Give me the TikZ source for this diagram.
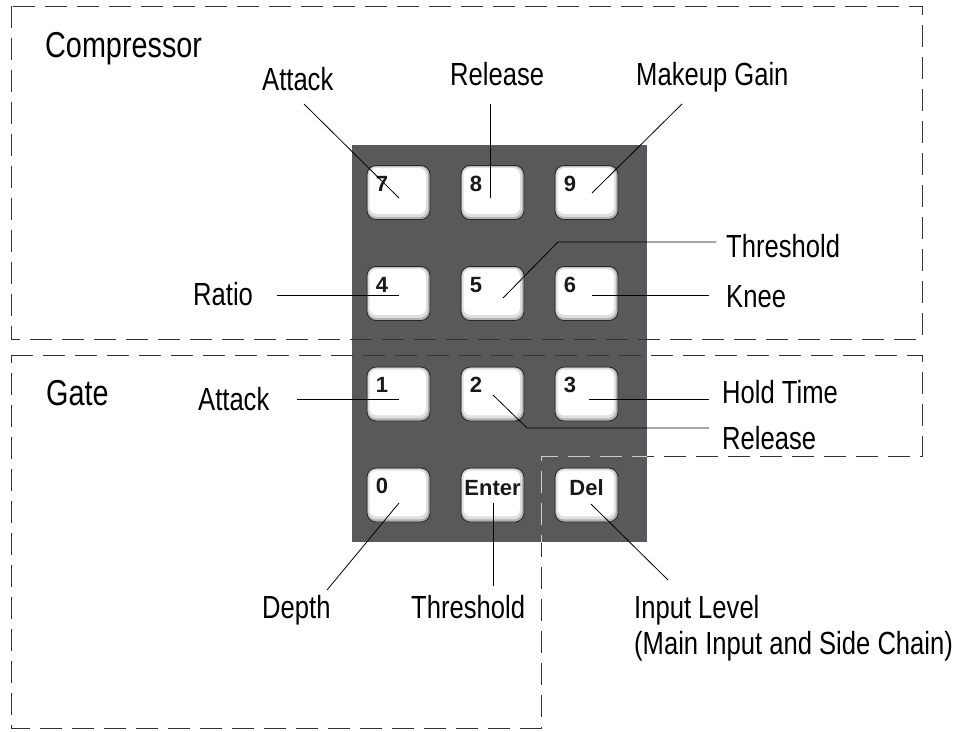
\documentclass[tikz,border=0pt]{standalone}
\usepackage{fontspec}
\setmainfont{Liberation Sans}[FakeStretch=0.8]
\newfontfamily\keyfont{Liberation Sans}
\definecolor{panel}{RGB}{88,89,91}
\begin{document}
\begin{tikzpicture}[x=1pt,y=-1pt,
  lbl/.style={font=\fontsize{32}{36}\selectfont, inner sep=0pt, anchor=base west},
  ttl/.style={font=\fontsize{36}{40}\selectfont, inner sep=0pt, anchor=base west},
  keyouter/.style={rectangle, minimum width=63pt, minimum height=54pt, inner sep=0pt,
    rounded corners=9pt, fill=gray!60, draw=black!85, line width=0.8pt},
  digit/.style={font=\keyfont\bfseries\fontsize{22}{26}\selectfont, inner sep=0pt, anchor=base west, text=black!90},
  leader/.style={draw=black, line width=0.8pt},
  zone/.style={draw=black!80, line width=1pt, dash pattern=on 22pt off 10pt}]
\useasboundingbox (0,0) rectangle (958,731);

% keypad panel
\fill[panel] (352,145) rectangle (647,542);

% dashed zones
\draw[zone] (11,6) rectangle (922,339);
\draw[zone] (11,355) -- (922,355) -- (922,456) -- (541,456) -- (541,728) -- (11,728) -- cycle;
\begin{scope}
  \clip (530,440) rectangle (647,542);
  \draw[zone, draw=gray!40] (11,355) -- (922,355) -- (922,456) -- (541,456) -- (541,728) -- (11,728) -- cycle;
\end{scope}

% keys
\foreach \n/\x/\y in {7/398.5/192.5, 8/492.5/192.5, 9/586.5/192.5,
                      4/398.5/293.5, 5/492.5/293.5, 6/586.5/293.5,
                      1/398.5/394, 2/492.5/394, 3/586.5/394,
                      0/398.5/495, E/492.5/495, D/586.5/495}{
  \node[keyouter] (k\n) at (\x,\y) {};
  \fill[gray!25, rounded corners=8pt] ([shift={(1.5pt,-1.5pt)}]k\n.north west) rectangle ([shift={(-2.5pt,3pt)}]k\n.south east);
  \fill[white, rounded corners=7pt] ([shift={(3pt,-3pt)}]k\n.north west) rectangle ([shift={(-4.5pt,6pt)}]k\n.south east);
}
\foreach \n in {7,8,9,4,5,6,1,2,3,0}{
  \node[digit] (d\n) at ([shift={(9pt,-26pt)}]k\n.north west) {\n};
}
\node[digit, anchor=base] (dE) at ([yshift=-27.5pt]kE.north) {Enter};
\node[digit, anchor=base] (dD) at ([yshift=-27.5pt]kD.north) {Del};

% titles
\node[ttl] (tComp) at (45,57) {Compressor};
\node[ttl] (tGate) at (46,405) {Gate};

% labels
\node[lbl] (lAtkC) at (262,90) {Attack};
\node[lbl] (lRelC) at (450,85) {Release};
\node[lbl] (lMkG) at (636,85) {Makeup Gain};
\node[lbl] (lThrC) at (726,257) {Threshold};
\node[lbl] (lRatio) at (193,305) {Ratio};
\node[lbl] (lKnee) at (726,307) {Knee};
\node[lbl] (lAtkG) at (198,410) {Attack};
\node[lbl] (lHold) at (722,403) {Hold Time};
\node[lbl] (lRelG) at (722,449) {Release};
\node[lbl] (lDepth) at (262,618) {Depth};
\node[lbl] (lThrG) at (411,618) {Threshold};
\node[lbl] (lInp) at (634,618) {Input Level};
\node[lbl] (lInp2) at (634,654) {(Main Input and Side Chain)};

% leader end points
\coordinate (a7) at (304,104);   \coordinate (b7) at (399,198);
\coordinate (a8) at (490,104);   \coordinate (b8) at (490,198);
\coordinate (a9) at (682,104);   \coordinate (b9) at (592,193);
\coordinate (a5) at (716,242);   \coordinate (m5) at (558,242); \coordinate (b5) at (503,298);
\coordinate (a4) at (277,295);   \coordinate (b4) at (399,295);
\coordinate (a6) at (709,295);   \coordinate (b6) at (592,295);
\coordinate (a1) at (297,399);   \coordinate (b1) at (399,399);
\coordinate (a3) at (709,399);   \coordinate (b3) at (589,399);
\coordinate (a2) at (709,428);   \coordinate (m2) at (527,428); \coordinate (b2) at (493,395);
\coordinate (a0) at (327,590);   \coordinate (b0) at (399,503);
\coordinate (aE) at (493,586);   \coordinate (bE) at (493,503);
\coordinate (aD) at (668,580);   \coordinate (bD) at (591,504);

\draw[leader] (a7) -- (b7);
\draw[leader] (a8) -- (b8);
\draw[leader] (a9) -- (b9);
\draw[leader] (a5) -- (m5) -- (b5);
\draw[leader] (a4) -- (b4);
\draw[leader] (a6) -- (b6);
\draw[leader] (a1) -- (b1);
\draw[leader] (a3) -- (b3);
\draw[leader] (a2) -- (m2) -- (b2);
\draw[leader] (a0) -- (b0);
\draw[leader] (aE) -- (bE);
\draw[leader] (aD) -- (bD);
\end{tikzpicture}
\end{document}
